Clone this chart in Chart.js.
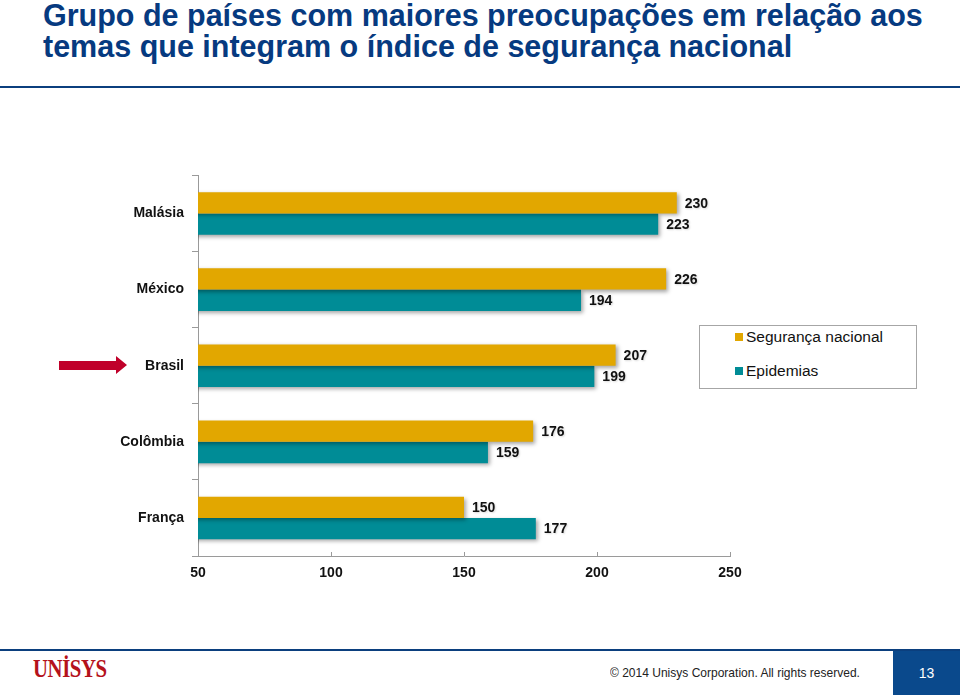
<!DOCTYPE html>
<html>
<head>
<meta charset="utf-8">
<script src="https://cdn.jsdelivr.net/npm/chart.js@4.4.0/dist/chart.umd.min.js"></script>
<style>
  html, body { margin: 0; padding: 0; background: #fff; }
  body { width: 960px; height: 695px; position: relative; overflow: hidden; font-family: "Liberation Sans", Arial, sans-serif; }
  .title { position: absolute; left: 43px; top: 0px; color: #063a80; font-weight: bold; font-size: 30.5px; line-height: 31px; white-space: nowrap; }
  .rule-top { position: absolute; left: 0; top: 86px; width: 960px; height: 2px; background: #0b3f7e; }
  .rule-bottom { position: absolute; left: 0; top: 649px; width: 960px; height: 2px; background: #0b3f7e; }
  #chartWrap { position: absolute; left: 0; top: 159px; width: 800px; height: 431px; }
  .legend { position: absolute; left: 699px; top: 325px; width: 216px; height: 62px; border: 1px solid #a6a6a6; background: #fff; }
  .legend-item { position: absolute; left: 35px; font-size: 15.5px; color: #111; white-space: nowrap; }
  .legend-item i { display: inline-block; width: 8px; height: 8px; margin-right: 3px; vertical-align: 1px; }
  .arrow { position: absolute; left: 59px; top: 356px; }
  .logo { position: absolute; left: 33px; top: 655px; font-family: "Liberation Serif", "DejaVu Serif", serif; font-weight: bold; font-size: 25px; color: #b5121b; letter-spacing: -0.5px; transform: scaleX(0.83); transform-origin: left top; }
  .copy { position: absolute; left: 610px; top: 665px; font-size: 13.5px; color: #222; white-space: nowrap; transform: scaleX(0.89); transform-origin: left top; }
  .page { position: absolute; left: 893px; top: 651px; width: 67px; height: 44px; background: #0a498c; color: #fff; font-size: 14px; line-height: 44px; text-align: center; }
</style>
</head>
<body>
<div class="title">Grupo de países com maiores preocupações em relação aos<br>temas que integram o índice de segurança nacional</div>
<div class="rule-top"></div>

<div id="chartWrap"><canvas id="mainChart" width="800" height="431"></canvas></div>

<div class="legend">
  <div class="legend-item" style="top: 2px;"><i style="background:#e2a700"></i>Segurança nacional</div>
  <div class="legend-item" style="top: 36px;"><i style="background:#008c96"></i>Epidemias</div>
</div>

<svg class="arrow" width="70" height="20" viewBox="0 0 70 20">
  <polygon points="0,5 57,5 57,0 68,9 57,18 57,14 0,14" fill="#c0002a"/>
</svg>

<div class="rule-bottom"></div>
<div class="logo">UNİSYS</div>
<div class="copy">© 2014 Unisys Corporation. All rights reserved.</div>
<div class="page">13</div>

<script>
const categories = ["Malásia", "México", "Brasil", "Colômbia", "França"];
const segurancaNacional = [230, 226, 207, 176, 150];
const epidemias = [223, 194, 199, 159, 177];
const xTicks = [50, 100, 150, 200, 250];

const GOLD = "#e2a700";
const TEAL = "#008c96";
const AXIS = "#9a9a9a";

// sombra nas barras, como no slide original
const barShadow = {
  id: "barShadow",
  beforeDatasetsDraw(chart) {
    const ctx = chart.ctx;
    ctx.save();
    ctx.shadowColor = "rgba(0,0,0,0.35)";
    ctx.shadowBlur = 4;
    ctx.shadowOffsetX = 2;
    ctx.shadowOffsetY = 2;
  },
  afterDatasetsDraw(chart) {
    chart.ctx.restore();
  }
};

const valueLabels = {
  id: "valueLabels",
  afterDatasetsDraw(chart) {
    const ctx = chart.ctx;
    ctx.save();
    ctx.font = "bold 14px 'Liberation Sans', Arial, sans-serif";
    ctx.fillStyle = "#111";
    ctx.textAlign = "left";
    ctx.textBaseline = "middle";
    ctx.shadowColor = "rgba(0,0,0,0.15)";
    ctx.shadowBlur = 2;
    ctx.shadowOffsetX = 1;
    ctx.shadowOffsetY = 1;
    chart.data.datasets.forEach((ds, i) => {
      chart.getDatasetMeta(i).data.forEach((bar, j) => {
        ctx.fillText(ds.data[j], bar.x + 8, bar.y + 1);
      });
    });
    ctx.restore();
  }
};

// marcas do eixo x para dentro da área do gráfico
const xTickMarks = {
  id: "xTickMarks",
  afterDraw(chart) {
    const ctx = chart.ctx;
    const scale = chart.scales.x;
    const bottom = chart.chartArea.bottom;
    ctx.save();
    ctx.strokeStyle = AXIS;
    ctx.lineWidth = 1;
    xTicks.forEach((v) => {
      const x = Math.round(scale.getPixelForValue(v)) + 0.5;
      ctx.beginPath();
      ctx.moveTo(x, bottom);
      ctx.lineTo(x, bottom - 4);
      ctx.stroke();
    });
    ctx.restore();
  }
};

const ctx = document.getElementById("mainChart").getContext("2d");
new Chart(ctx, {
  type: "bar",
  data: {
    labels: categories,
    datasets: [
      { label: "Segurança nacional", data: segurancaNacional, backgroundColor: GOLD },
      { label: "Epidemias", data: epidemias, backgroundColor: TEAL }
    ]
  },
  options: {
    indexAxis: "y",
    responsive: false,
    animation: false,
    barPercentage: 1,
    categoryPercentage: 0.56,
    layout: { padding: { top: 4, right: 70, left: 0, bottom: 0 } },
    plugins: { legend: { display: false }, tooltip: { enabled: false } },
    scales: {
      x: {
        min: 50,
        max: 250,
        afterFit: (scale) => { scale.height = 34; },
        afterBuildTicks: (scale) => { scale.ticks = xTicks.map((v) => ({ value: v })); },
        grid: { drawOnChartArea: false, drawTicks: false },
        border: { display: true, color: AXIS },
        ticks: {
          padding: 9,
          color: "#111",
          font: { family: "'Liberation Sans', Arial, sans-serif", size: 14, weight: "bold" }
        }
      },
      y: {
        afterFit: (scale) => { scale.width = 198; },
        grid: { drawOnChartArea: false, drawTicks: true, tickLength: 6, color: AXIS, offset: true },
        border: { display: true, color: AXIS },
        ticks: {
          padding: 8,
          color: "#111",
          font: { family: "'Liberation Sans', Arial, sans-serif", size: 14, weight: "bold" }
        }
      }
    }
  },
  plugins: [barShadow, valueLabels, xTickMarks]
});
</script>
</body>
</html>
